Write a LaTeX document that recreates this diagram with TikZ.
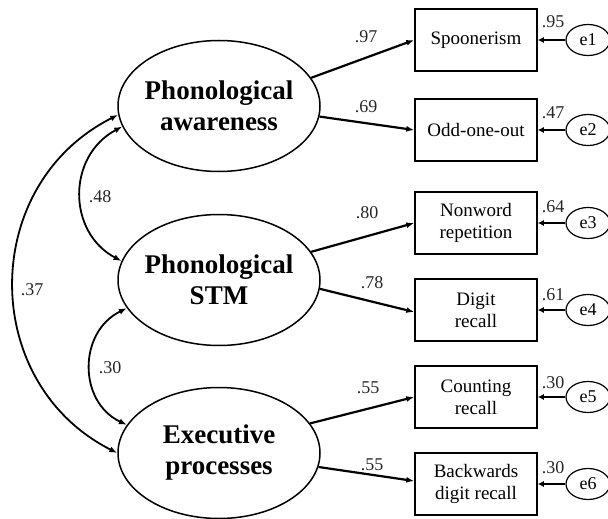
\documentclass[tikz,border=0pt]{standalone}
\usepackage{fontspec}
\setmainfont{Liberation Serif}
\usetikzlibrary{shapes.geometric,arrows.meta}
\begin{document}
\begin{tikzpicture}[x=1pt,y=-1pt,
  latent/.style={ellipse,draw,line width=1.5pt,minimum width=202pt,minimum height=131pt,inner xsep=-8pt,inner ysep=0pt,align=center,font=\fontsize{27}{31}\selectfont\bfseries},
  obs/.style={rectangle,draw,line width=1.5pt,minimum width=122pt,minimum height=62pt,inner sep=0pt,align=center,font=\fontsize{19}{22}\selectfont},
  err/.style={ellipse,draw,line width=1.2pt,minimum width=44pt,minimum height=31pt,inner sep=0pt,font=\fontsize{18}{20}\selectfont},
  lab/.style={font=\fontsize{18}{20}\selectfont,text=black!85,inner sep=0pt},
  tip/.tip={Latex[length=8pt,width=6pt]},
  load/.style={line width=2.2pt,-tip},
  errarrow/.style={line width=2.6pt,-{Latex[length=6pt,width=6pt]}},
  cov/.style={line width=1.8pt,tip-tip}
]
\useasboundingbox (0,0) rectangle (608,519);

% latent variables
\node[latent] (pa) at (219,106) {Phonological\\awareness};
\node[latent] (pstm) at (219,280) {Phonological\\STM};
\node[latent] (ex) at (219,453) {Executive\\processes};

% observed variables
\node[obs] (b1) at (476,40) {Spoonerism};
\node[obs] (b2) at (476,130) {Odd-one-out};
\node[obs] (b3) at (476,223) {Nonword\\repetition};
\node[obs] (b4) at (476,310) {Digit\\recall};
\node[obs] (b5) at (476,397) {Counting\\recall};
\node[obs] (b6) at (476,484) {Backwards\\digit recall};

% error terms
\node[err] (e1) at (588,40) {e1};
\node[err] (e2) at (588,130) {e2};
\node[err] (e3) at (588,223) {e3};
\node[err] (e4) at (588,310) {e4};
\node[err] (e5) at (588,397) {e5};
\node[err] (e6) at (588,484) {e6};

% loadings
\draw[load] (pa.17) -- (b1.west);
\draw[load] (pa.-6) -- (b2.west);
\draw[load] (pstm.17) -- (b3.west);
\draw[load] (pstm.-5) -- ([yshift=-2pt]b4.west);
\draw[load] (ex.18) -- (b5.west);
\draw[load] (ex.-8) -- ([yshift=3pt]b6.west);

% error arrows
\draw[errarrow] (e1.west) -- (b1.east);
\draw[errarrow] (e2.west) -- (b2.east);
\draw[errarrow] (e3.west) -- (b3.east);
\draw[errarrow] (e4.west) -- (b4.east);
\draw[errarrow] (e5.west) -- (b5.east);
\draw[errarrow] (e6.west) -- (b6.east);

% covariances
\draw[cov] (pa.192) .. controls (67,156) and (67,232) .. (pstm.169);
\draw[cov] (pstm.197) .. controls (78,332) and (78,402) .. (ex.163);
\draw[cov] (pa.185) .. controls (-21,185) and (-21,383) .. (ex.180);

% loading labels
\node[lab] (l1) at (366,37) {.97};
\node[lab] (l2) at (366,107) {.69};
\node[lab] (l3) at (367,213) {.80};
\node[lab] (l4) at (372,283) {.78};
\node[lab] (l5) at (368,388) {.55};
\node[lab] (l6) at (372,465) {.55};

% error labels
\node[lab] (r1) at (553,22) {.95};
\node[lab] (r2) at (553,113) {.47};
\node[lab] (r3) at (553,207) {.64};
\node[lab] (r4) at (553,295) {.61};
\node[lab] (r5) at (553,383) {.30};
\node[lab] (r6) at (553,468) {.30};

% covariance labels
\node[lab] (c1) at (100,197) {.48};
\node[lab] (c2) at (110,368) {.30};
\node[lab] (c3) at (32,290) {.37};
\end{tikzpicture}
\end{document}
